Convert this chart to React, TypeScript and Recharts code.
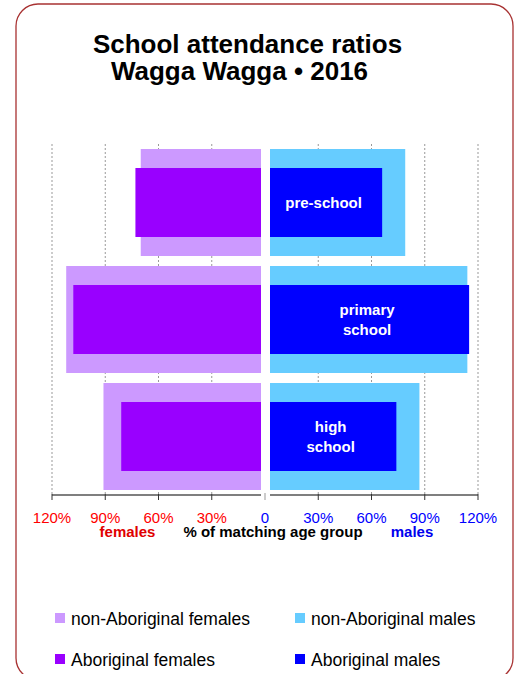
import React from "react";
import { BarChart, Bar, XAxis, YAxis, CartesianGrid, LabelList } from "recharts";

const categories = ["pre-school", "primary school", "high school"];
const nonAboriginalFemales = [70, 112, 91];
const aboriginalFemales = [73, 108, 81];
const nonAboriginalMales = [79, 114, 87];
const aboriginalMales = [66, 115, 74];
const tickValues = [-120, -90, -60, -30, 0, 30, 60, 90, 120];
const gridValues = [-120, -90, -60, -30, 30, 60, 90, 120];

const legendItems = [
  { label: "non-Aboriginal females", color: "#cc99ff" },
  { label: "non-Aboriginal males", color: "#66ccff" },
  { label: "Aboriginal females", color: "#9900ff" },
  { label: "Aboriginal males", color: "#0000ff" },
];

const data = categories.map((c, i) => ({
  cat: c,
  nonF: -nonAboriginalFemales[i],
  abF: -aboriginalFemales[i],
  nonM: nonAboriginalMales[i],
  abM: aboriginalMales[i],
}));

const W = 519;
const H = 674;
const M = { top: 144, right: 41, bottom: 139, left: 52 };
const STEP = (W - M.left - M.right) / 8;
const FONT = "'Liberation Sans', Arial, Helvetica, sans-serif";

const GapRect = (props: any) => {
  const { x, y, width, height, fill, payload, dataKey } = props;
  if (x == null || width == null) return null;
  let left = Math.min(x, x + width);
  let right = Math.max(x, x + width);
  const female = payload && payload[dataKey] < 0;
  if (female) right -= 4;
  else left += 5;
  const top = Math.min(y, y + height);
  return <rect x={left} y={top} width={Math.max(0, right - left)} height={Math.abs(height)} fill={fill} />;
};

const AxisTick = (props: any) => {
  const { x, y, payload } = props;
  const v = payload.value;
  const axisY = y - 5;
  const label = v === 0 ? "0" : `${Math.abs(v)}%`;
  const color = v < 0 ? "#ff0000" : "#0000ff";
  let seg: React.ReactNode = null;
  if (v < 120) {
    let x1 = x;
    let x2 = x + STEP;
    if (v === -30) x2 = x + STEP - 4;
    if (v === 0) x1 = x + 5;
    seg = <line x1={x1} x2={x2} y1={axisY} y2={axisY} stroke="#000" strokeWidth={1.2} />;
  }
  return (
    <g>
      {seg}
      <line x1={x} x2={x} y1={v === 0 ? axisY - 2 : axisY - 1} y2={axisY + 5} stroke={v === 0 ? "#999" : "#333"} strokeWidth={1} />
      <text x={x} y={axisY + 28} textAnchor="middle" fill={color} fontSize={15} fontFamily={FONT}>
        {label}
      </text>
    </g>
  );
};

const BarLabel = (props: any) => {
  const { x, y, width, height, value } = props;
  const lines = String(value).split(" ");
  const cx = x + width / 2;
  const cy = y + height / 2;
  const lh = 20;
  const start = cy - ((lines.length - 1) * lh) / 2;
  return (
    <text textAnchor="middle" fill="#fff" fontSize={15} fontWeight="bold" fontFamily={FONT}>
      {lines.map((l, i) => (
        <tspan key={i} x={cx} y={start + i * lh} dy="0.35em">
          {l}
        </tspan>
      ))}
    </text>
  );
};

export default function App() {
  return (
    <div style={{ position: "absolute", left: 0, top: 0, width: W, height: H, overflow: "hidden", background: "#fff" }}>
      <div style={{ position: "absolute", left: 0, top: 0 }}>
        <BarChart width={W} height={H} data={data} layout="vertical" stackOffset="sign" margin={M} barCategoryGap={0}>
          <CartesianGrid horizontal={false} verticalValues={gridValues} stroke="#999" strokeDasharray="2 2" />
          <XAxis
            type="number"
            domain={[-120, 120]}
            ticks={tickValues}
            allowDataOverflow
            interval={0}
            tickSize={5}
            tickMargin={0}
            axisLine={false}
            tickLine={false}
            height={40}
            tick={<AxisTick />}
          />
          <YAxis yAxisId="outer" type="category" dataKey="cat" hide />
          <YAxis yAxisId="inner" type="category" dataKey="cat" hide />
          <Bar dataKey="nonF" yAxisId="outer" stackId="non" barSize={107} fill="#cc99ff" shape={GapRect} isAnimationActive={false} />
          <Bar dataKey="nonM" yAxisId="outer" stackId="non" barSize={107} fill="#66ccff" shape={GapRect} isAnimationActive={false} />
          <Bar dataKey="abF" yAxisId="inner" stackId="ab" barSize={69} fill="#9900ff" shape={GapRect} isAnimationActive={false} />
          <Bar dataKey="abM" yAxisId="inner" stackId="ab" barSize={69} fill="#0000ff" shape={GapRect} isAnimationActive={false}>
            <LabelList dataKey="cat" content={<BarLabel />} />
          </Bar>
        </BarChart>
      </div>
      <svg width={W} height={H} style={{ position: "absolute", left: 0, top: 0, pointerEvents: "none" }}>
        <rect x={16} y={4} width={497} height={676} rx={22} ry={22} fill="none" stroke="#a83232" strokeWidth={1.3} />
        <text x={247.5} y={53} textAnchor="middle" fontSize={26} fontWeight="bold" fontFamily={FONT} fill="#000">
          School attendance ratios
        </text>
        <text x={239.5} y={80} textAnchor="middle" fontSize={26} fontWeight="bold" fontFamily={FONT} fill="#000">
          Wagga Wagga • 2016
        </text>
        <text x={127.5} y={536.5} textAnchor="middle" fontSize={15} fontWeight="bold" fontFamily={FONT} fill="#e00000">
          females
        </text>
        <text x={273} y={536.5} textAnchor="middle" fontSize={15} fontWeight="bold" fontFamily={FONT} fill="#000">
          % of matching age group
        </text>
        <text x={412} y={536.5} textAnchor="middle" fontSize={15} fontWeight="bold" fontFamily={FONT} fill="#0000ee">
          males
        </text>
        {legendItems.map((it, i) => {
          const col = i % 2;
          const row = Math.floor(i / 2);
          const sx = col === 0 ? 55 : 295;
          const sy = row === 0 ? 613 : 654;
          return (
            <g key={it.label}>
              <rect x={sx} y={sy} width={10} height={10} fill={it.color} />
              <text x={sx + 16} y={sy + 12} fontSize={17.5} fontFamily={FONT} fill="#000">
                {it.label}
              </text>
            </g>
          );
        })}
      </svg>
    </div>
  );
}
